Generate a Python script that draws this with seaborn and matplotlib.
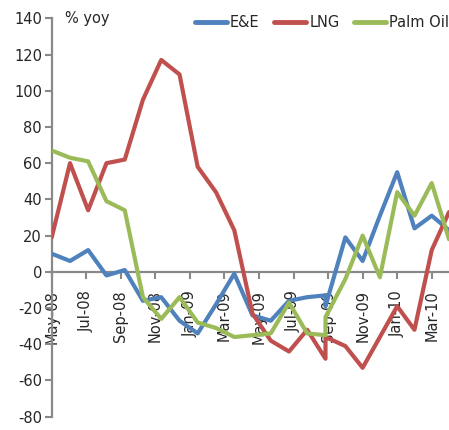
import matplotlib
matplotlib.use("Agg")
import matplotlib.pyplot as plt
import pandas as pd
import seaborn as sns

# Month offsets from May-08 for each observation (Sep-09 appears twice)
month_pos = [0, 1.06, 2.11, 3.17, 4.23, 5.28, 6.34, 7.40, 8.45, 9.51, 10.57, 11.62,
             12.68, 13.74, 14.79, 15.85, 15.85, 17, 18, 19, 20, 21, 22, 23]

ee = [10, 6, 12, -2, 1, -16, -14, -27, -34, -18, -1, -24,
      -27, -16, -14, -13, -19, 19, 6, 31, 55, 24, 31, 23]
lng = [19, 60, 34, 60, 62, 95, 117, 109, 58, 44, 23, -23,
       -38, -44, -32, -48, -36, -41, -53, -36, -19, -32, 12, 33]
palm = [67, 63, 61, 39, 34, -14, -26, -14, -28, -31, -36, -35,
        -34, -17, -34, -35, -25, -4, 20, -3, 44, 31, 49, 18]

series_names = ["E&E", "LNG", "Palm Oil"]
tick_labels = ["May-08", "Jul-08", "Sep-08", "Nov-08", "Jan-09", "Mar-09",
               "May-09", "Jul-09", "Sep-09", "Nov-09", "Jan-10", "Mar-10"]
colors = {"E&E": "#4F81BD", "LNG": "#C0504D", "Palm Oil": "#9BBB59"}

df = pd.concat([
    pd.DataFrame({"pos": month_pos, "value": vals, "series": name})
    for name, vals in zip(series_names, [ee, lng, palm])
], ignore_index=True)

sns.set_style("white")
plt.rcParams["font.family"] = ["DejaVu Sans"]
plt.rcParams["axes.unicode_minus"] = False

W, H = 449, 430
fig = plt.figure(figsize=(W / 100, H / 100), dpi=100)
left_px, top_px, bottom_px = 51.7, 18.3, 416.7
ax = fig.add_axes([left_px / W, 1 - bottom_px / H, 1 - left_px / W, (bottom_px - top_px) / H])

sns.lineplot(data=df, x="pos", y="value", hue="series", palette=colors,
             hue_order=series_names, estimator=None, sort=False,
             linewidth=3, ax=ax, zorder=3)

ax.set_xlim(0, 23)
ax.set_ylim(-80, 140)
ax.set_yticks(list(range(-80, 141, 20)))
ax.set_xticks(list(range(0, 23, 2)))
ax.set_xticklabels(tick_labels)
ax.set_xlabel("")
ax.set_ylabel("")

axis_grey = "#898989"
for side in ["top", "right"]:
    ax.spines[side].set_visible(False)
ax.spines["left"].set_color(axis_grey)
ax.spines["left"].set_linewidth(1.6)
ax.spines["bottom"].set_position(("data", 0))
ax.spines["bottom"].set_color(axis_grey)
ax.spines["bottom"].set_linewidth(1.6)

ax.tick_params(axis="y", direction="out", length=5, width=1.5, color=axis_grey,
               labelsize=10.5, pad=2, left=True)
ax.tick_params(axis="x", direction="out", length=5, width=1.5, color=axis_grey,
               labelsize=10.5, pad=8, labelrotation=90, bottom=True)
for lab in ax.get_xticklabels():
    lab.set_horizontalalignment("center")
    lab.set_verticalalignment("top")

ax.text(13.3 / (W - left_px), 140, "% yoy", transform=ax.get_yaxis_transform(),
        ha="left", va="center", fontsize=10.5)

handles, labels = ax.get_legend_handles_labels()
for h in handles:
    h.set_linewidth(3.5)
ax.legend(handles, labels, ncol=3, loc="center right",
          bbox_to_anchor=(1.0, (bottom_px - 22.7) / (bottom_px - top_px)),
          frameon=False, handlelength=2.2, handletextpad=0.2,
          columnspacing=1.0, borderaxespad=0, borderpad=0, fontsize=10.5)

fig.savefig("out.png", dpi=100)
